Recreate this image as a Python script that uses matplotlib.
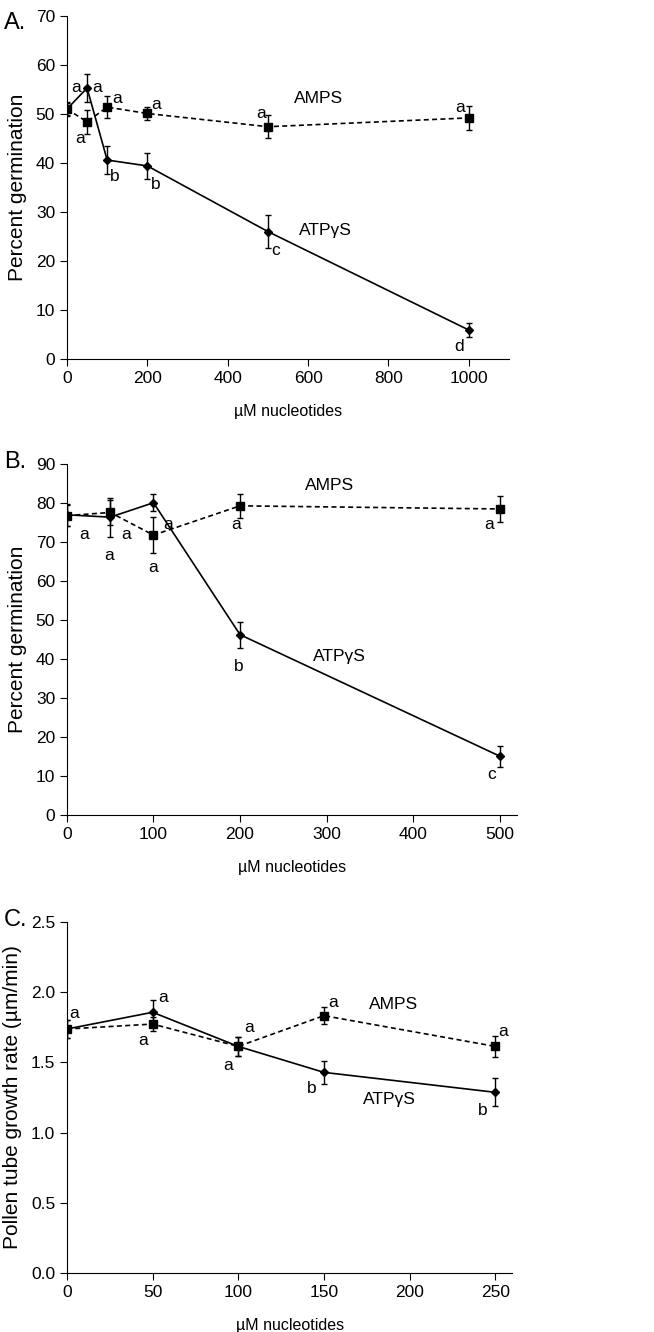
import matplotlib.pyplot as plt

plt.rcParams['font.family'] = ['Liberation Sans Narrow', 'Liberation Sans', 'DejaVu Sans']

# ---- panel A ----
a_x = [0, 50, 100, 200, 500, 1000]
a_atp = [51.0, 55.3, 40.6, 39.4, 26.0, 5.9]
a_atp_err = [1.5, 2.8, 2.8, 2.6, 3.4, 1.5]
a_amps = [51.0, 48.4, 51.4, 50.1, 47.4, 49.2]
a_amps_err = [1.3, 2.4, 2.3, 1.3, 2.3, 2.4]
a_letters = [('a', 22, 55.4), ('a', 76, 55.4), ('a', 32, 45.0), ('a', 124, 53.1),
             ('b', 119, 37.2), ('a', 221, 52.0), ('b', 220, 35.6), ('a', 483, 50.1),
             ('c', 518, 22.1), ('a', 978, 51.4), ('d', 976, 2.5)]
a_names = [('AMPS', 627, 53.1), ('ATPγS', 642, 26.3)]

# ---- panel B ----
b_x = [0, 50, 100, 200, 500]
b_atp = [76.9, 76.3, 80.0, 46.2, 15.1]
b_atp_err = [2.8, 5.0, 2.2, 3.3, 2.7]
b_amps = [76.7, 77.5, 71.7, 79.2, 78.4]
b_amps_err = [2.7, 3.3, 4.7, 3.0, 3.3]
b_letters = [('a', 20, 71.9), ('a', 48.6, 66.4), ('a', 68, 71.9), ('a', 99, 63.4),
             ('a', 116.5, 74.5), ('a', 195.6, 74.3), ('b', 198, 38.0),
             ('a', 487.7, 74.3), ('c', 491, 10.4)]
b_names = [('AMPS', 304, 84.5), ('ATPγS', 315, 40.7)]

# ---- panel C ----
c_x = [0, 50, 100, 150, 250]
c_atp = [1.738, 1.857, 1.614, 1.429, 1.287]
c_atp_err = [0.065, 0.09, 0.07, 0.08, 0.10]
c_amps = [1.738, 1.773, 1.614, 1.833, 1.614]
c_amps_err = [0.065, 0.05, 0.07, 0.06, 0.075]
c_letters = [('a', 4.1, 1.847), ('a', 56.4, 1.959), ('a', 44.3, 1.657), ('a', 106.5, 1.752),
             ('a', 94.2, 1.477), ('a', 155.4, 1.928), ('b', 143.1, 1.311),
             ('a', 254.9, 1.719), ('b', 243, 1.159)]
c_names = [('AMPS', 190.9, 1.911), ('ATPγS', 188, 1.239)]


def draw_panel(ax, x, atp, atp_err, amps, amps_err, letters, names):
    ax.errorbar(x, atp, yerr=atp_err, color='black', lw=1.2, marker='D', ms=4,
                capsize=2.5, elinewidth=1, capthick=1, zorder=3)
    ax.errorbar(x, amps, yerr=amps_err, color='black', lw=1.2, ls=(0, (3, 2)),
                marker='s', ms=6, capsize=2.5, elinewidth=1, capthick=1, zorder=4)
    for t, lx, ly in letters:
        ax.text(lx, ly, t, fontsize=12.5, ha='center', va='center')
    for t, lx, ly in names:
        ax.text(lx, ly, t, fontsize=12.5, ha='center', va='center')
    ax.spines['top'].set_visible(False)
    ax.spines['right'].set_visible(False)
    ax.tick_params(labelsize=12.5, length=5, direction='out')
    ax.set_xlabel('µM nucleotides', fontsize=11.5, labelpad=13)


fig = plt.figure(figsize=(6.54, 13.32), dpi=100)

ax1 = fig.add_axes([0.1024, 0.7305, 0.676, 0.2575])
draw_panel(ax1, a_x, a_atp, a_atp_err, a_amps, a_amps_err, a_letters, a_names)
ax1.set_xlim(0, 1100)
ax1.set_ylim(0, 70)
ax1.set_xticks(range(0, 1001, 200))
ax1.set_yticks(range(0, 71, 10))
ax1.set_ylabel('Percent germination', fontsize=15, labelpad=6)
fig.text(0.006, 0.983, 'A.', fontsize=17, va='center')

ax2 = fig.add_axes([0.1024, 0.3881, 0.688, 0.2638])
draw_panel(ax2, b_x, b_atp, b_atp_err, b_amps, b_amps_err, b_letters, b_names)
ax2.set_xlim(0, 520)
ax2.set_ylim(0, 90)
ax2.set_xticks(range(0, 501, 100))
ax2.set_yticks(range(0, 91, 10))
ax2.set_ylabel('Percent germination', fontsize=15, labelpad=6)
fig.text(0.006, 0.653, 'B.', fontsize=17, va='center')

ax3 = fig.add_axes([0.1024, 0.0443, 0.681, 0.2635])
draw_panel(ax3, c_x, c_atp, c_atp_err, c_amps, c_amps_err, c_letters, c_names)
ax3.set_xlim(0, 260)
ax3.set_ylim(0, 2.5)
ax3.set_xticks(range(0, 251, 50))
ax3.set_yticks([0, 0.5, 1.0, 1.5, 2.0, 2.5])
ax3.set_yticklabels(['0.0', '0.5', '1.0', '1.5', '2.0', '2.5'])
ax3.set_ylabel('Pollen tube growth rate (µm/min)', fontsize=15, labelpad=6)
fig.text(0.006, 0.309, 'C.', fontsize=17, va='center')

fig.savefig('out.png', dpi=100)
